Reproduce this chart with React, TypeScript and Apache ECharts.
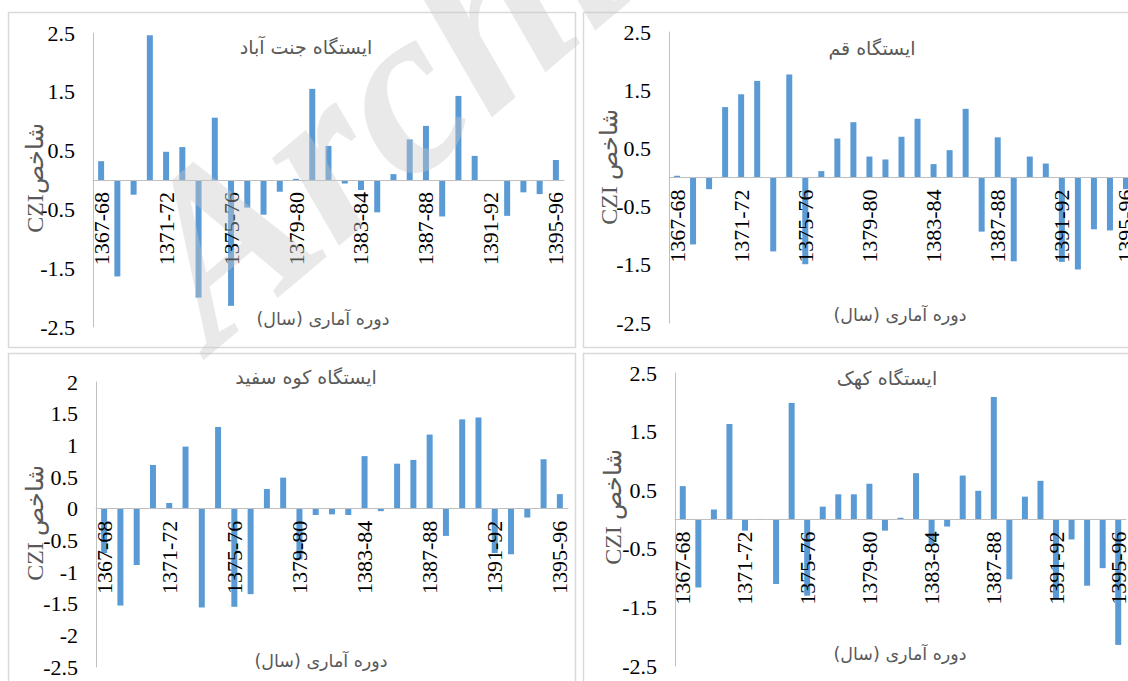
import React, { useEffect, useRef } from 'react';
import * as echarts from 'echarts';

const categories = [
  '1367-68', '1368-69', '1369-70', '1370-71', '1371-72', '1372-73', '1373-74', '1374-75',
  '1375-76', '1376-77', '1377-78', '1378-79', '1379-80', '1380-81', '1381-82', '1382-83',
  '1383-84', '1384-85', '1385-86', '1386-87', '1387-88', '1388-89', '1389-90', '1390-91',
  '1391-92', '1392-93', '1393-94', '1394-95', '1395-96',
];

const jannatAbad = [0.32, -1.64, -0.25, 2.46, 0.48, 0.56, -2.0, 1.06, -2.14, -0.47, -0.59, -0.2, 0.02, 1.55, 0.58, -0.06, -0.17, -0.55, 0.1, 0.69, 0.92, -0.62, 1.43, 0.41, -0.01, -0.61, -0.21, -0.24, 0.34];
const qom = [0.03, -1.15, -0.2, 1.21, 1.43, 1.66, -1.27, 1.77, -1.49, 0.11, 0.67, 0.95, 0.36, 0.31, 0.7, 1.01, 0.23, 0.47, 1.18, -0.93, 0.69, -1.44, 0.36, 0.24, -1.45, -1.58, -0.89, -0.91, -0.2];
const kuhSefid = [-0.7, -1.53, -0.89, 0.69, 0.09, 0.98, -1.56, 1.29, -1.55, -1.35, 0.31, 0.49, -0.8, -0.1, -0.09, -0.1, 0.83, -0.04, 0.71, 0.77, 1.17, -0.43, 1.41, 1.44, -0.7, -0.72, -0.14, 0.78, 0.23];
const kahak = [0.57, -1.16, 0.17, 1.63, -0.19, 0.01, -1.1, 1.99, -1.3, 0.22, 0.43, 0.43, 0.61, -0.19, 0.03, 0.79, -0.45, -0.12, 0.75, 0.49, 2.09, -1.02, 0.39, 0.66, -1.35, -0.34, -1.13, -0.83, -2.14];

const stationTitles = ['ایستگاه جنت آباد', 'ایستگاه قم', 'ایستگاه کوه سفید', 'ایستگاه کهک'];
const yAxisNames = ['CZIشاخص', 'CZI شاخص', 'CZI شاخص', 'CZI شاخص'];
const xAxisName = 'دوره آماری (سال)';
const yMins = [-2.5, -2.5, -2.5, -2.5];
const yMaxs = [2.5, 2.5, 2, 2.5];
const watermark = 'Archive';

const SERIF = "'Liberation Serif', 'Times New Roman', serif";
const FA = "'DejaVu Sans', 'Liberation Serif', sans-serif";

export default function App() {
  const ref = useRef<HTMLDivElement>(null);

  useEffect(() => {
    const chart = echarts.init(ref.current as HTMLDivElement, undefined, { renderer: 'svg' });
    const seriesData = [jannatAbad, qom, kuhSefid, kahak];
    const layouts = [
      { grid: { left: 93, top: 33, width: 471, height: 294 }, box: [8.5, 12.5, 567, 335], title: [306, 47], xname: [323, 319], yname: [35, 178] },
      { grid: { left: 669, top: 32, width: 465, height: 291 }, box: [583.5, 12.5, 600, 335], title: [872, 48], xname: [900, 315], yname: [609, 167] },
      { grid: { left: 96, top: 382, width: 472, height: 285 }, box: [8.5, 353.5, 567, 345], title: [306, 377], xname: [321, 661], yname: [35, 523] },
      { grid: { left: 675, top: 373, width: 451, height: 293 }, box: [583.5, 353.5, 600, 345], title: [887, 378], xname: [900, 654], yname: [613, 507] },
    ];

    const graphic: any[] = [];
    layouts.forEach((l, i) => {
      graphic.push({
        type: 'rect', z: -10, silent: true,
        shape: { x: l.box[0], y: l.box[1], width: l.box[2], height: l.box[3] },
        style: { fill: 'none', stroke: '#d9d9d9', lineWidth: 1.5 },
      });
      graphic.push({
        type: 'text', x: l.title[0], y: l.title[1], z: 5,
        style: { text: stationTitles[i], font: `19px ${FA}`, fill: '#595959', textAlign: 'center', textVerticalAlign: 'middle' },
      });
      graphic.push({
        type: 'text', x: l.xname[0], y: l.xname[1], z: 5,
        style: { text: xAxisName, font: `17.5px ${FA}`, fill: '#595959', textAlign: 'center', textVerticalAlign: 'middle' },
      });
      graphic.push({
        type: 'text', x: l.yname[0], y: l.yname[1], z: 5, rotation: Math.PI / 2,
        style: { text: yAxisNames[i], font: `24px ${SERIF}`, fill: '#595959', textAlign: 'center', textVerticalAlign: 'middle' },
      });
    });
    graphic.push({
      type: 'text', x: 238, y: 382, z: 100, silent: true, rotation: 0.7,
      style: {
        text: watermark,
        font: `italic bold 240px ${SERIF}`,
        fill: 'rgba(200,200,200,0.4)',
        textAlign: 'left',
        textVerticalAlign: 'bottom',
      },
    });

    const halfFormatter = (v: number) => {
      const twice = Math.round(v * 2);
      return Math.abs(twice) % 2 === 1 ? String(v) : '';
    };

    chart.setOption({
      animation: false,
      backgroundColor: '#ffffff',
      grid: layouts.map((l) => ({ ...l.grid, containLabel: false })),
      xAxis: layouts.map((l, i) => {
        const zeroY = l.grid.top + (l.grid.height * yMaxs[i]) / (yMaxs[i] - yMins[i]);
        const bottomY = l.grid.top + l.grid.height;
        return {
          type: 'category',
          gridIndex: i,
          data: categories,
          position: 'bottom',
          offset: -(bottomY - zeroY),
          z: 10,
          axisLine: { onZero: false, lineStyle: { color: '#bfbfbf', width: 1 } },
          axisTick: { show: false },
          splitLine: { show: false },
          axisLabel: {
            interval: 3,
            rotate: 90,
            margin: 12,
            fontSize: 22,
            fontFamily: SERIF,
            color: '#000000',
          },
        };
      }),
      yAxis: layouts.map((_, i) => ({
        type: 'value',
        gridIndex: i,
        min: yMins[i],
        max: yMaxs[i],
        interval: 0.5,
        axisLine: { show: true, lineStyle: { color: '#bfbfbf', width: 1 } },
        axisTick: { show: false },
        splitLine: { show: false },
        axisLabel: {
          margin: 18,
          fontSize: 22,
          fontFamily: SERIF,
          color: '#000000',
          formatter: i === 2 ? undefined : halfFormatter,
        },
      })),
      series: seriesData.map((d, i) => ({
        type: 'bar',
        xAxisIndex: i,
        yAxisIndex: i,
        data: d,
        barWidth: 6,
        itemStyle: { color: '#5B9BD5' },
      })),
      graphic,
    });

    return () => chart.dispose();
  }, []);

  return (
    <div style={{ position: 'fixed', left: 0, top: 0, width: 1128, height: 681, background: '#fff', overflow: 'hidden' }}>
      <div ref={ref} style={{ position: 'absolute', left: 0, top: 0, width: 1180, height: 681 }} />
    </div>
  );
}
